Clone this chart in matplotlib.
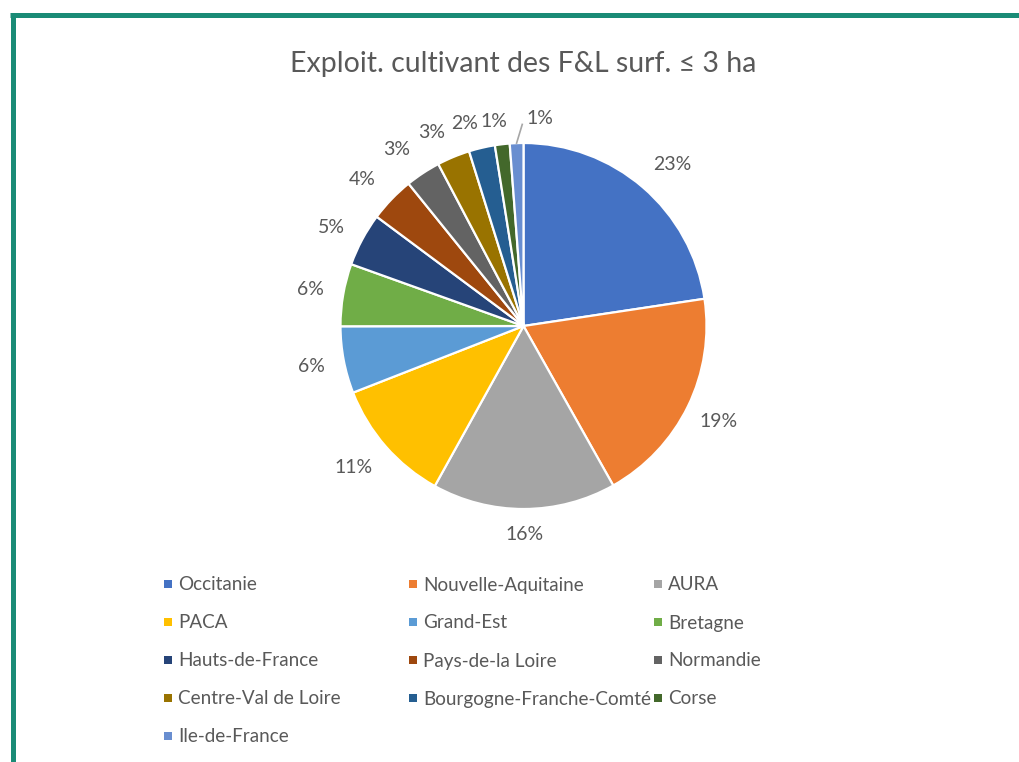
import numpy as np
import matplotlib
matplotlib.use("Agg")
import matplotlib.pyplot as plt
from matplotlib.patches import Rectangle
from matplotlib.lines import Line2D

# ---------------- data ----------------
regions = ["Occitanie", "Nouvelle-Aquitaine", "AURA", "PACA", "Grand-Est", "Bretagne",
           "Hauts-de-France", "Pays-de-la Loire", "Normandie", "Centre-Val de Loire",
           "Bourgogne-Franche-Comté", "Corse", "Ile-de-France"]
shares = [22.6, 19.2, 16.2, 11.0, 5.9, 5.5, 4.7, 4.0, 3.1, 2.9, 2.3, 1.3, 1.2]
colors = ["#4472C4", "#ED7D31", "#A5A5A5", "#FFC000", "#5B9BD5", "#70AD47",
          "#264478", "#9E480E", "#636363", "#997300", "#255E91", "#43682B", "#698ED0"]
title = "Exploit. cultivant des F&L surf. \u2264 3 ha"

# label layout tweaks (angle offset in degrees, clockwise positive)
label_shift = [2, 0, 0, 1.5, 0, 0, -1, -1.5, -2.3, -3, -3, -1.6, 6.6]
label_dist = [1.20, 1.185, 1.14, 1.21, 1.18, 1.18, 1.18, 1.19, 1.19, 1.17, 1.15, 1.13, 1.14]

W, H = 1019, 762
DPI = 100
FONT = "Lato"
TXT = "#595959"

fig = plt.figure(figsize=(W / DPI, H / DPI), dpi=DPI)
fig.patch.set_facecolor("white")

# frame border (teal)
teal = "#1A8B76"
fig.add_artist(Line2D([10 / W, 1.0], [1 - 14.5 / H, 1 - 14.5 / H], color=teal, lw=3.6,
                      transform=fig.transFigure, solid_capstyle="butt"))
fig.add_artist(Line2D([12.5 / W, 12.5 / W], [1 - 12.7 / H, 0], color=teal, lw=3.6,
                      transform=fig.transFigure, solid_capstyle="butt"))

# title
fig.text(523 / W, 1 - 64 / H, title, ha="center", va="center", fontsize=20.5,
         color=TXT, family=FONT)

# pie
cx, cy, R = 523.5, 326.0, 183.0
ax = fig.add_axes([(cx - R) / W, 1 - (cy + R) / H, 2 * R / W, 2 * R / H])
wedges, _ = ax.pie(shares, colors=colors, startangle=90, counterclock=False,
                   radius=1.0, wedgeprops=dict(edgecolor="white", linewidth=1.6))
ax.set_xlim(-1, 1)
ax.set_ylim(-1, 1)
ax.set_aspect("auto")
ax.axis("off")
ax.set_clip_on(False)

total = sum(shares)
for i, (w, v) in enumerate(zip(wedges, shares)):
    mid = 0.5 * (w.theta1 + w.theta2)  # degrees, ccw from +x
    ang = np.deg2rad(mid - label_shift[i])
    d = label_dist[i]
    x, y = d * np.cos(ang), d * np.sin(ang)
    ax.text(x, y, f"{100 * v / total:.0f}%", ha="center", va="center", fontsize=14,
            color=TXT, family=FONT, clip_on=False)
    if i == len(shares) - 1:
        m = np.deg2rad(mid)
        ax.plot([np.cos(m) * 1.0, x - 0.095], [np.sin(m) * 1.0, y - 0.035], color="#A6A6A6",
                lw=1.2, clip_on=False)

# legend (3 columns, row-major like Excel)
col_x = [168, 413, 658]
row_y0, row_dy = 585, 38
for i, (name, c) in enumerate(zip(regions, colors)):
    r, k = divmod(i, 3)
    x = col_x[k]
    y = row_y0 + r * row_dy
    fig.add_artist(Rectangle(((x - 4) / W, 1 - (y + 3) / H), 8 / W, 8 / H,
                             transform=fig.transFigure, facecolor=c, edgecolor="none"))
    fig.text((x + 10) / W, 1 - y / H, name, ha="left", va="center", fontsize=13.6,
             color=TXT, family=FONT)

fig.savefig("out.png", dpi=DPI, facecolor="white")
